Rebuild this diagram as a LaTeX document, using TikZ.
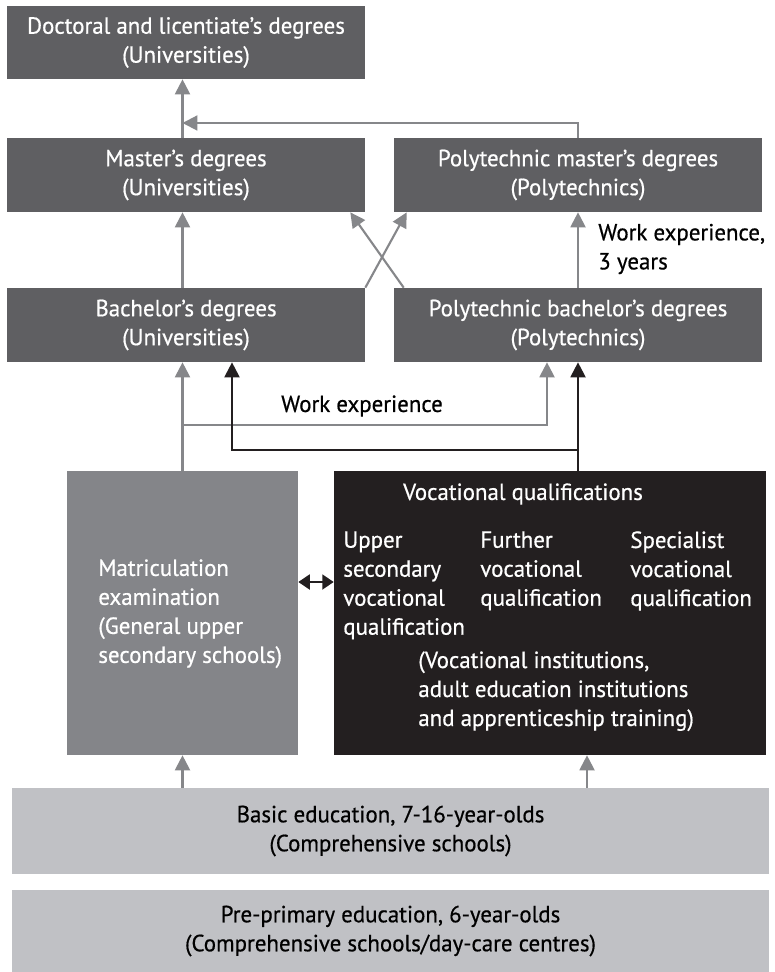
\documentclass[tikz,border=0pt]{standalone}
\usepackage{fontspec}
\setmainfont{PT Sans}[FakeStretch=0.98,FakeBold=0.6]
\usetikzlibrary{arrows.meta,positioning,calc}
\definecolor{Slate}{HTML}{5F5F62}
\definecolor{Steel}{HTML}{848589}
\definecolor{Ink}{HTML}{231F20}
\definecolor{Mist}{HTML}{C0C1C5}
\definecolor{Wire}{HTML}{86878A}
\newcommand{\chartfont}{\fontsize{13.3}{16.5}\selectfont}

\begin{document}
\begin{tikzpicture}[x=0.02cm,y=-0.02cm,
  box/.style={fill=Slate,text=white,minimum width=7.16cm,minimum height=1.48cm,
    align=center,inner sep=0pt,font=\chartfont},
  wide/.style={box,minimum width=7.36cm},
  tall/.style={inner sep=0pt,minimum height=5.68cm},
  base/.style={fill=Mist,text=black,minimum width=15.14cm,align=center,
    inner sep=0pt,font=\chartfont},
  inner/.style={inner sep=0pt,align=left,text=white,font=\chartfont,anchor=north west},
  label/.style={inner sep=0pt,align=left,text=black,font=\chartfont},
  garrow/.style={-{Triangle[length=8.5pt,width=8.5pt]},line width=1.2pt,Wire},
  karrow/.style={-{Triangle[length=8.5pt,width=8.5pt]},line width=1.2pt,Ink},
  dblarrow/.style={{Triangle[length=6.5pt,width=8.5pt]}-{Triangle[length=6.5pt,width=8.5pt]},
    line width=1.2pt,Ink}]
  \fill[white] (0,0) rectangle (774,972);
  \useasboundingbox (0,0) rectangle (774,972);

  % degree boxes
  \node[box,minimum height=1.46cm] (doc) at (186,42.5)
    {Doctoral and licentiate’s degrees\\(Universities)};
  \node[box] (mast) at (186,175) {Master’s degrees\\(Universities)};
  \node[wide] (pmast) at (578,175) {Polytechnic master’s degrees\\(Polytechnics)};
  \node[box] (bach) at (186,325) {Bachelor’s degrees\\(Universities)};
  \node[wide] (pbach) at (578,325) {Polytechnic bachelor’s degrees\\(Polytechnics)};

  % upper secondary level
  \node[tall,fill=Steel,minimum width=4.62cm] (matric) at (182.5,613) {};
  \node[tall,fill=Ink,minimum width=8.64cm] (voc) at (550,613) {};
  \node[inner] (matrictxt) at (98,559)
    {Matriculation\\examination\\(General upper\\secondary schools)};
  \node[inner,anchor=center,align=center] (voctitle) at (523,494) {Vocational qualifications};
  \node[inner] (upper) at (343,531) {Upper\\secondary\\vocational\\qualification};
  \node[inner] (further) at (480,531) {Further\\vocational\\qualification};
  \node[inner] (special) at (630,531) {Specialist\\vocational\\qualification};
  \node[inner] (inst) at (418,651)
    {(Vocational institutions,\\adult education institutions\\and apprenticeship training)};

  % basic levels
  \node[base,minimum height=1.72cm] (basic) at (390.5,831)
    {Basic education, 7-16-year-olds\\(Comprehensive schools)};
  \node[base,minimum height=1.64cm] (pre) at (390.5,931)
    {Pre-primary education, 6-year-olds\\(Comprehensive schools/day-care centres)};

  % labels
  \node[label,anchor=center] (wexp) at (362,406) {Work experience};
  \node[label,anchor=west] (wexp3) at (598,249) {Work experience,\\3 years};

  % connectors
  \coordinate (topjoin) at (matric.north |- 0,123);
  \coordinate (wkleft) at (matric.north |- 0,425);
  \coordinate (vocjoin) at (pbach.south |- 0,450);
  \draw[garrow] (matric.north |- mast.north) -- (matric.north |- doc.south);
  \draw[garrow] (pmast.north) |- (topjoin);
  \draw[garrow] (matric.north |- bach.north) -- (matric.north |- mast.south);
  \draw[garrow] (pbach.north) -- (pmast.south);
  \draw[garrow] (bach.north east) -- ($(pmast.south west)+(13,0)$);
  \draw[garrow] ($(pbach.north west)+(10,0)$) -- ($(mast.south east)+(-15,0)$);
  \draw[garrow] (matric.north) -- (matric.north |- bach.south);
  \draw[garrow] (wkleft) -| ($(pbach.south)+(-31,0)$);
  \draw[karrow] (voc.north -| pbach.south) -- (pbach.south);
  \draw[karrow] (vocjoin) -| ($(bach.south)+(46,0)$);
  \draw[dblarrow] (matric.east |- 0,582) -- (voc.west |- 0,582);
  \draw[garrow] (basic.north -| matric.south) -- (matric.south);
  \draw[garrow] (basic.north -| 587,0) -- ($(voc.south)+(37,0)$);
\end{tikzpicture}
\end{document}
